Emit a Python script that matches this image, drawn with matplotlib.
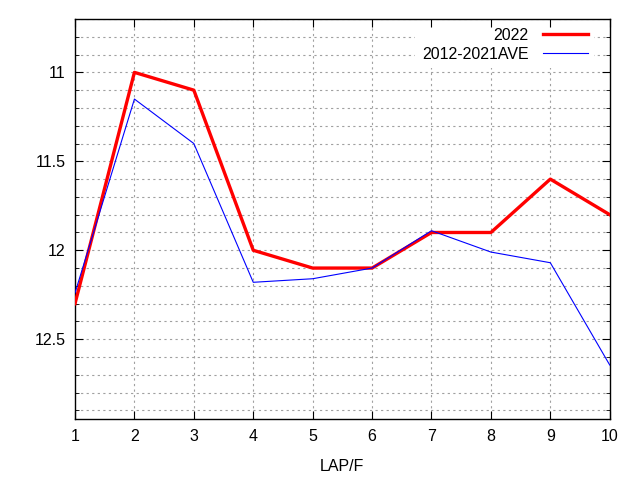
import numpy as np
import matplotlib.pyplot as plt
from matplotlib.ticker import MultipleLocator

laps = [1, 2, 3, 4, 5, 6, 7, 8, 9, 10]
y2022 = [12.3, 11.0, 11.1, 12.0, 12.1, 12.1, 11.9, 11.9, 11.6, 11.8]
yave = [12.24, 11.15, 11.40, 12.18, 12.16, 12.1, 11.89, 12.01, 12.07, 12.645]

plt.rcParams['font.family'] = ['Liberation Sans', 'DejaVu Sans']

fig = plt.figure(figsize=(6.4, 4.8), dpi=100)
ax = fig.add_axes([0.1172, 0.1265, 0.8355, 0.8339])

ax.plot(laps, y2022, color='#ff0000', lw=2.4, label='2022', zorder=3)
ax.plot(laps, yave, color='#0000ff', lw=0.8, label='2012-2021AVE', zorder=3)

ax.set_xlim(1, 10)
ax.set_ylim(12.95, 10.7)
ax.xaxis.set_major_locator(MultipleLocator(1))
ax.yaxis.set_minor_locator(MultipleLocator(0.1))
ax.set_yticks([11, 11.5, 12, 12.5])
ax.set_yticklabels(['11', '11.5', '12', '12.5'])

# gnuplot-like dotted grid, kept under the legend box
gkw = dict(color='#a0a0a0', ls=(0, (2, 3)), lw=0.8, zorder=1)
for yv in ax.yaxis.get_minorticklocs():
    ax.axhline(yv, **gkw)
for yv in ax.get_yticks():
    ax.axhline(yv, **gkw)
for xv in ax.get_xticks():
    if 1 < xv < 10:
        ax.axvline(xv, **gkw)
ax.set_axisbelow(False)

ax.tick_params(which='both', direction='in', top=True, right=True, labelsize=11.5, pad=7)
ax.tick_params(which='major', length=6)
ax.tick_params(which='minor', length=3)
for s in ax.spines.values():
    s.set_linewidth(1.0)

ax.set_xlabel('LAP/F', fontsize=11.5, labelpad=11)

leg = ax.legend(loc='upper right', bbox_to_anchor=(0.975, 1.0), markerfirst=False,
                frameon=True, fontsize=11.5, handlelength=2.8, handletextpad=0.9,
                borderaxespad=0.15, borderpad=0.4, labelspacing=0.25, fancybox=False)
leg.get_frame().set_edgecolor('none')
leg.get_frame().set_facecolor('white')
leg.get_frame().set_alpha(1)
leg.set_zorder(1.2)
for t in leg.get_texts():
    t.set_ha('right')

fig.savefig('out.png', dpi=100)
